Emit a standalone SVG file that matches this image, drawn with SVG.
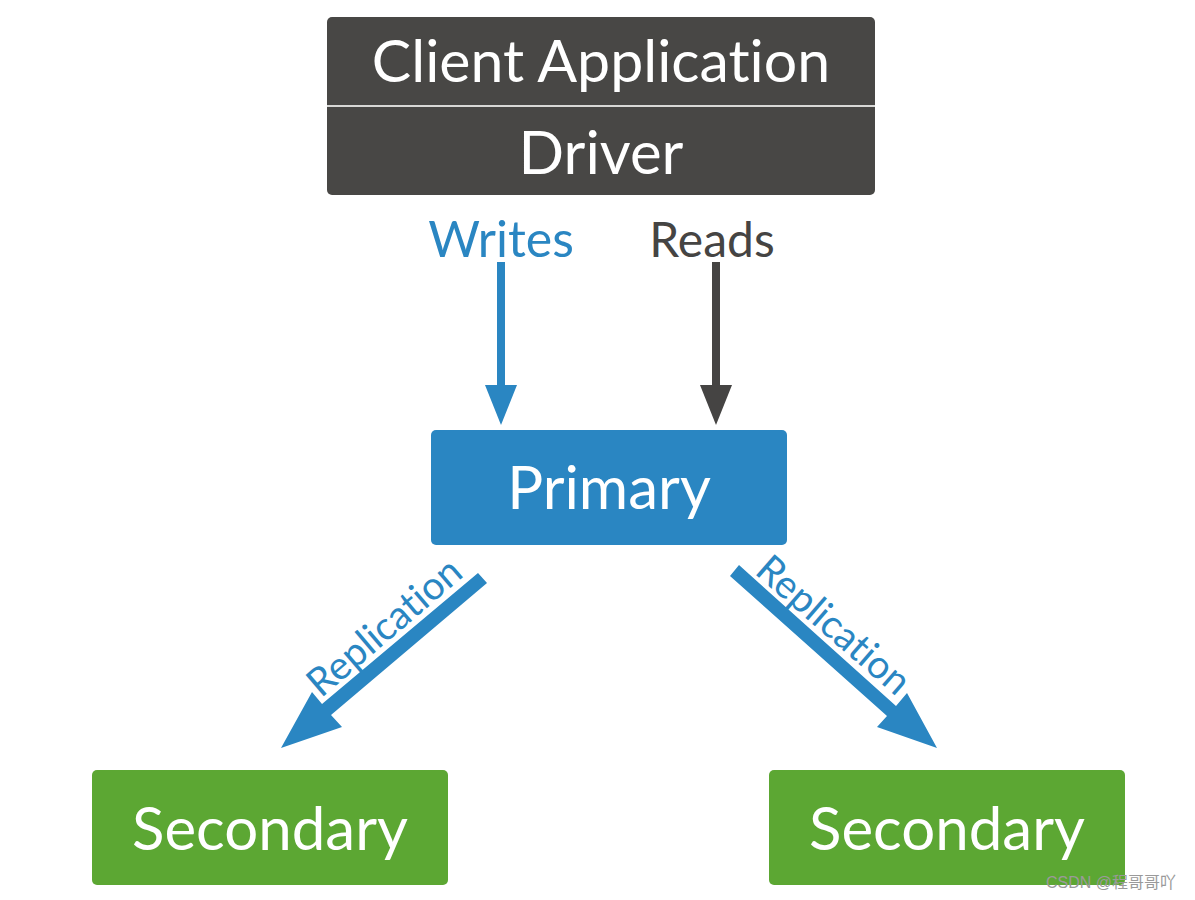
<svg xmlns="http://www.w3.org/2000/svg" width="1195" height="900" viewBox="0 0 1195 900">
<style>
.lbl{font-family:Lato,"Open Sans","Noto Sans",sans-serif;text-anchor:middle;font-variant-ligatures:none}
.w{fill:#ffffff}
.blue{fill:#2a86c2}
.dark{fill:#484745}
.green{fill:#5ca733}
</style>
<defs>
<marker id="hb" markerWidth="5" markerHeight="4" refX="0" refY="2" orient="auto" markerUnits="strokeWidth" viewBox="0 0 5 4"><path d="M0,0 L5,2 L0,4 Z" fill="#2a86c2"/></marker>
<marker id="hd" markerWidth="5" markerHeight="4" refX="0" refY="2" orient="auto" markerUnits="strokeWidth" viewBox="0 0 5 4"><path d="M0,0 L5,2 L0,4 Z" fill="#454443"/></marker>
</defs>
<rect width="1195" height="900" fill="#ffffff"/>
<g id="client">
<rect x="327" y="17" width="548" height="178" rx="5" class="dark"/>
<line x1="327" y1="106" x2="875" y2="106" stroke="#d8d8d6" stroke-width="2"/>
<text x="601" y="82" font-size="59" class="lbl w">Client Application</text>
<text x="601" y="174" font-size="60" class="lbl w">Driver</text>
</g>
<g id="primary">
<rect x="431" y="430" width="356" height="115" rx="5" class="blue"/>
<text x="609" y="509" font-size="60" class="lbl w">Primary</text>
</g>
<g id="secondary1">
<rect x="92" y="770" width="356" height="115" rx="5" class="green"/>
<text x="270" y="850" font-size="60" class="lbl w">Secondary</text>
</g>
<g id="secondary2">
<rect x="769" y="770" width="356" height="115" rx="5" class="green"/>
<text x="947" y="850" font-size="60" class="lbl w">Secondary</text>
</g>
<g id="connectors">
<line x1="501" y1="262" x2="501" y2="385" stroke="#2a86c2" stroke-width="8" marker-end="url(#hb)"/>
<line x1="716" y1="262" x2="716" y2="385" stroke="#454443" stroke-width="8" marker-end="url(#hd)"/>
<path d="M487,583 L478,573 L322,704 L312,692 L281,748 L342,727 L331,715 Z" fill="#2a86c2"/>
<path d="M730,576 L739,565 L896,706 L907,693 L937,748 L877,727 L887,716 Z" fill="#2a86c2"/>
<text x="501" y="257" font-size="50" class="lbl blue">Writes</text>
<text x="712" y="257" font-size="48" fill="#454443" class="lbl">Reads</text>
<text x="0" y="0" font-size="39" class="lbl blue" transform="translate(393,637) rotate(-40.5)">Replication</text>
<text x="0" y="0" font-size="39" class="lbl blue" transform="translate(825,635) rotate(41)">Replication</text>
</g>
<text x="1111" y="888" font-size="16" fill="#9a9a9a" style="font-family:'Liberation Sans','Noto Sans CJK SC',sans-serif;text-anchor:middle">CSDN @程哥哥吖</text>
</svg>
